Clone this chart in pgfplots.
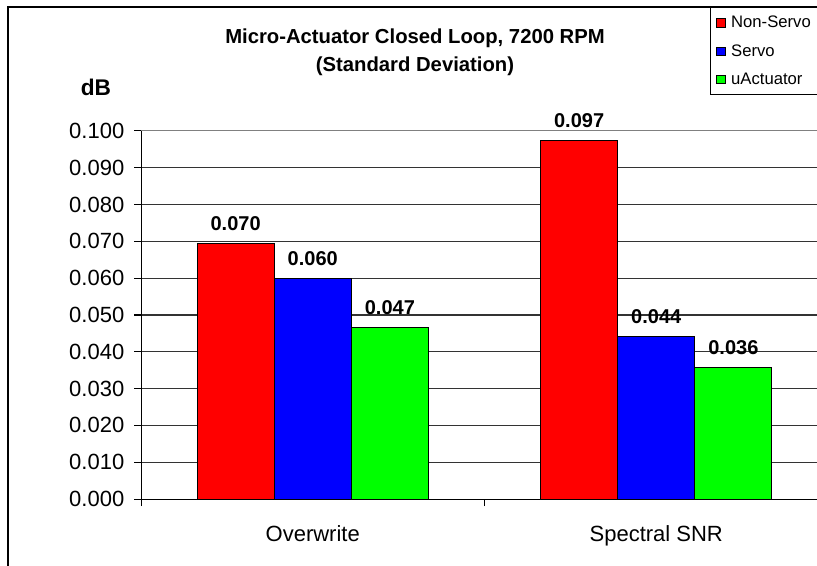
\documentclass[border=0pt]{standalone}
\usepackage{fontspec}
\setmainfont{Liberation Sans}
\usepackage{pgfplots}
\pgfplotsset{compat=1.18}
\pgfplotsset{sq legend/.style={legend image code/.code={\draw[##1, line width=0.6pt] (2.25pt,-3.1pt) rectangle (8.45pt,3.1pt); \path (10.7pt,0pt);}}}
\begin{document}
\begin{tikzpicture}
\useasboundingbox (0,0) rectangle (612.75pt,-424.5pt);
\clip (0,0) rectangle (612.75pt,-424.5pt);
\draw[line width=0.9pt] (6pt,-5.25pt) rectangle (640pt,-450pt);
\begin{axis}[
  at={(105.75pt,-374.25pt)}, anchor=south west,
  scale only axis, width=515.25pt, height=276pt,
  xmin=-0.5, xmax=1.5, ymin=0, ymax=0.1,
  axis x line*=bottom, axis y line*=left,
  axis line style={line width=0.75pt, black},
  ybar, bar width=0.2245,
  ytick={0,0.01,0.02,0.03,0.04,0.05,0.06,0.07,0.08,0.09},
  extra y ticks={0.1}, extra y tick style={grid style={line width=0.75pt, gray}},
  yticklabel style={xshift=-3.75pt, /pgf/number format/.cd, fixed, fixed zerofill, precision=3, assume math mode=true},
  ticklabel style={font=\fontsize{16.5}{19}\selectfont},
  tick align=outside, major tick length=5.25pt,
  tick style={line width=0.75pt, black},
  ymajorgrids, grid style={line width=0.75pt, black!80},
  xtick={-0.5,0.5,1.5}, xticklabels={},
  extra x ticks={0,1}, extra x tick labels={Overwrite,Spectral SNR},
  extra x tick style={major tick length=0pt, tick style={draw=none}, xticklabel style={yshift=-16.5pt}},
  nodes near coords style={font=\bfseries\fontsize{15}{18}\selectfont, yshift=6pt},
  legend style={at={(0.828,1.337)}, anchor=north west, draw=black, line width=0.75pt, fill=white,
    font=\fontsize{12.5}{15}\selectfont, row sep=7pt, inner sep=4.5pt, cells={anchor=west}},
]
\addplot[sq legend, fill=red, draw=black, line width=0.75pt, bar shift=-0.2245, nodes near coords, point meta=explicit symbolic]
  coordinates {(0,0.0695)[0.070] (1,0.0973)[0.097]};
\addplot[sq legend, fill=blue, draw=black, line width=0.75pt, bar shift=0, nodes near coords, point meta=explicit symbolic]
  coordinates {(0,0.0600)[0.060] (1,0.0441)[0.044]};
\addplot[sq legend, fill=green, draw=black, line width=0.75pt, bar shift=0.2245, nodes near coords, point meta=explicit symbolic]
  coordinates {(0,0.0465)[0.047] (1,0.0358)[0.036]};
\legend{Non-Servo,Servo,uActuator}
\end{axis}
\node[font=\bfseries\fontsize{15.2}{18}\selectfont] at (311.25pt,-28.5pt) {Micro-Actuator Closed Loop, 7200 RPM};
\node[font=\bfseries\fontsize{15.2}{18}\selectfont] at (311.25pt,-49.5pt) {(Standard Deviation)};
\node[font=\bfseries\fontsize{17}{20}\selectfont] at (72pt,-65.25pt) {dB};
\end{tikzpicture}
\end{document}
